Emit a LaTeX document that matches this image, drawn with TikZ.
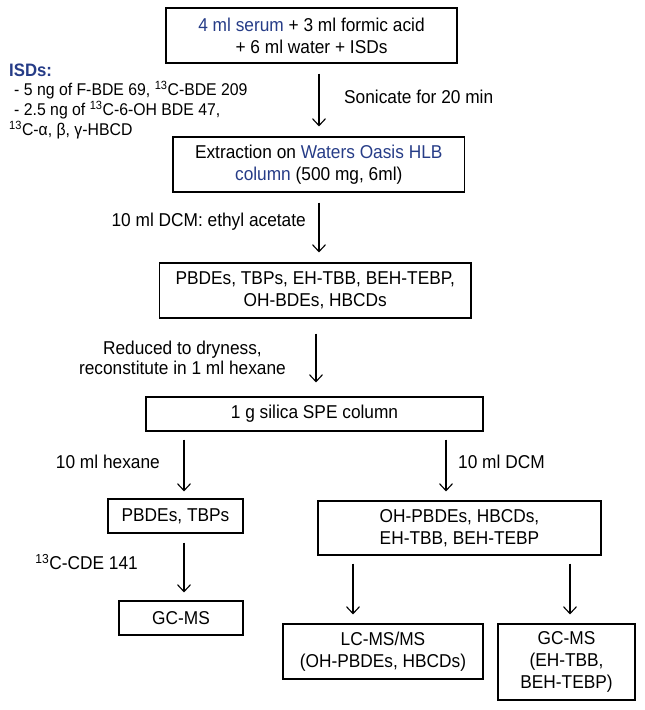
\documentclass[tikz,border=0pt]{standalone}
\usepackage{fontspec}
\setmainfont[FakeStretch=0.93]{Liberation Sans}
\usetikzlibrary{arrows.meta}
\definecolor{oasisblue}{RGB}{38,60,135}

\tikzset{
  box/.style={draw, line width=1.1pt, align=center, inner sep=0pt, font=\fontsize{18.6}{22}\selectfont},
  lbl/.style={inner sep=0pt, font=\fontsize{18.6}{20}\selectfont},
  isd/.style={inner sep=0pt, anchor=west, font=\fontsize{17}{20}\selectfont},
  flow/.style={-{Straight Barb[length=7pt,width=13pt,line width=1.1pt]}, line width=1.1pt},
}

\begin{document}
\begin{tikzpicture}[x=1pt,y=-1pt]
	\useasboundingbox (0,0) rectangle (645,710);
	% main column
	\node[box, minimum width=291pt, minimum height=55pt] (sample) at (311.5,35.5) {{\color{oasisblue}4 ml serum} + 3 ml formic acid\\+ 6 ml water + ISDs};
	\node[box, minimum width=291.5pt, minimum height=55pt] (oasis) at (318.75,164.5) {Extraction on {\color{oasisblue}Waters Oasis HLB}\\{\color{oasisblue}column} (500 mg, 6ml)};
	\node[box, minimum width=311.5pt, minimum height=55pt] (extract) at (315.25,290.5) {PBDEs, TBPs, EH-TBB, BEH-TEBP,\\OH-BDEs, HBCDs};
	\node[box, minimum width=337pt, minimum height=34pt] (silica) at (314.5,414) {1 g silica SPE column};
	% fractions
	\node[box, minimum width=135pt, minimum height=34pt] (hexfrac) at (175.5,516) {PBDEs, TBPs};
	\node[box, minimum width=283pt, minimum height=54pt] (dcmfrac) at (459.5,528) {OH-PBDEs, HBCDs,\\EH-TBB, BEH-TEBP};
	\node[box, minimum width=124pt, minimum height=34pt] (gcleft) at (181,618) {GC-MS};
	\node[box, minimum width=200pt, minimum height=55pt] (lcms) at (383,651.5) {LC-MS/MS\\(OH-PBDEs, HBCDs)};
	\node[box, minimum width=137pt, minimum height=76pt] (gcright) at (566.5,662) {GC-MS\\(EH-TBB,\\BEH-TEBP)};
	% labels
	\node[isd, font=\bfseries\fontsize{18}{20}\selectfont, text=oasisblue] (isdhead) at (9,70) {ISDs:};
	\node[isd] (isda) at (14,90) {- 5 ng of F-BDE 69, \textsuperscript{13}C-BDE 209};
	\node[isd] (isdb) at (14,110) {- 2.5 ng of \textsuperscript{13}C-6-OH BDE 47,};
	\node[isd] (isdc) at (9,130) {\textsuperscript{13}C-α, β, γ-HBCD};
	\node[lbl, anchor=west] (sonic) at (344,97) {Sonicate for 20 min};
	\node[lbl, anchor=east] (elute) at (306,222) {10 ml DCM: ethyl acetate};
	\node[lbl, anchor=east, align=center] (dry) at (286,358) {Reduced to dryness,\\reconstitute in 1 ml hexane};
	\node[lbl, anchor=east] (hexlbl) at (160,462) {10 ml hexane};
	\node[lbl, anchor=west] (dcmlbl) at (458,462) {10 ml DCM};
	\node[lbl, anchor=east] (cdelbl) at (138,562) {\textsuperscript{13}C-CDE 141};
	% arrows
	\draw[flow, shorten <=10pt, shorten >=10pt] (sample.south -| 319,0) -- (oasis.north -| 319,0);
	\draw[flow, shorten <=10pt, shorten >=10pt] (oasis.south -| 319,0) -- (extract.north -| 319,0);
	\draw[flow, shorten <=15pt, shorten >=14pt] (extract.south -| 316,0) -- (silica.north -| 316,0);
	\draw[flow, shorten <=8pt, shorten >=7pt] (silica.south -| 184,0) -- (hexfrac.north -| 184,0);
	\draw[flow, shorten <=8pt, shorten >=9pt] (silica.south -| 446,0) -- (dcmfrac.north -| 446,0);
	\draw[flow, shorten <=9pt, shorten >=8pt] (hexfrac.south -| 184,0) -- (gcleft.north -| 184,0);
	\draw[flow, shorten <=8pt, shorten >=9pt] (dcmfrac.south -| 353,0) -- (lcms.north -| 353,0);
	\draw[flow, shorten <=8pt, shorten >=9pt] (dcmfrac.south -| 570,0) -- (gcright.north -| 570,0);
\end{tikzpicture}
\end{document}
